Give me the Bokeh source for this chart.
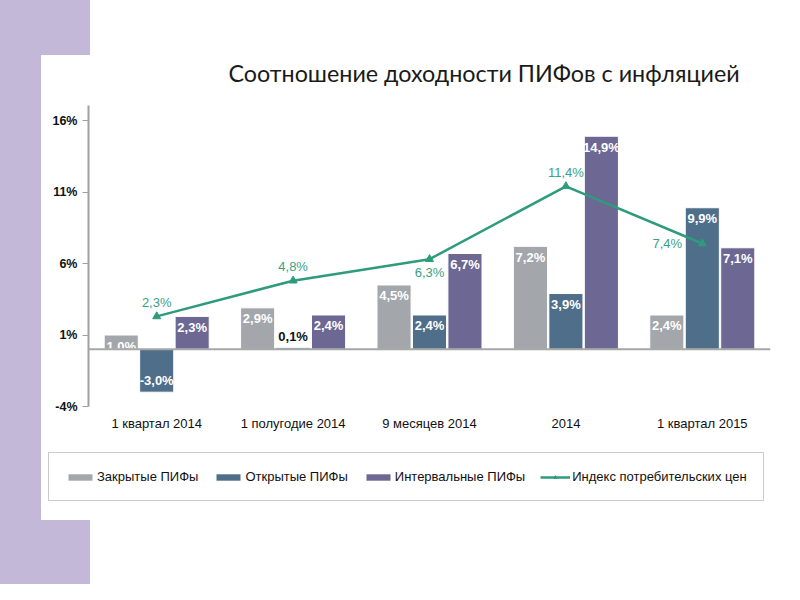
from bokeh.plotting import figure
from bokeh.layouts import column
from bokeh.models import (ColumnDataSource, FactorRange, Span, FixedTicker, PrintfTickFormatter,
                          Legend, LegendItem)
from bokeh.transform import dodge
from bokeh.core.properties import value
from bokeh.embed import file_html
from bokeh.resources import INLINE

# ---- data ----
categories = ["1 квартал 2014", "1 полугодие 2014", "9 месяцев 2014", "2014", "1 квартал 2015"]
closed_funds = [1.0, 2.9, 4.5, 7.2, 2.4]
open_funds = [-3.0, 0.1, 2.4, 3.9, 9.9]
interval_funds = [2.3, 2.4, 6.7, 14.9, 7.1]
cpi = [2.3, 4.8, 6.3, 11.4, 7.4]
y_ticks = [-4, 1, 6, 11, 16]
cpi_label_side = ["above", "above", "below", "above", "left"]

series_names = ["Закрытые ПИФы", "Открытые ПИФы", "Интервальные ПИФы"]
cpi_name = "Индекс потребительских цен"

# ---- styles ----
C_CLOSED = "#A3A7AB"
C_OPEN = "#4E6E8A"
C_INTERVAL = "#6C6893"
C_CPI = "#2E9C7B"
LAVENDER = "#C3B8D7"
FONT = "Liberation Sans"


def fmt(v):
    return f"{v:.1f}%".replace(".", ",")


p = figure(width=784, height=440, x_range=FactorRange(*categories, range_padding=0),
           y_range=(-4, 17.05), output_backend="svg", toolbar_location=None,
           min_border_left=88, min_border_right=14, min_border_top=105, min_border_bottom=34)
p.background_fill_color = "white"
p.border_fill_color = None
p.outline_line_color = None
p.grid.visible = False

# title
p.title.text = "Соотношение доходности ПИФов с инфляцией"
p.title.text_font = "Lato"
p.title.text_font_size = "23.3px"
p.title.text_font_style = "normal"
p.title.text_color = "#1A1A1A"
p.title.align = "left"
p.title.offset = 140
p.title.standoff = 37

src = ColumnDataSource(dict(cat=categories, closed=closed_funds, open=open_funds,
                            interval=interval_funds, cpi=cpi))

offsets = [-0.26, 0.0, 0.26]
cols = ["closed", "open", "interval"]
colors = [C_CLOSED, C_OPEN, C_INTERVAL]
vals = [closed_funds, open_funds, interval_funds]

p.add_layout(Span(location=0, dimension="width", line_color="#A6A6A6", line_width=2))

for off, col, color, vv in zip(offsets, cols, colors, vals):
    p.vbar(x=dodge("cat", off, range=p.x_range), top=col, bottom=0, width=0.25,
           source=src, fill_color=color, line_color="white", line_width=1)
    yo, tc = [], []
    for v in vv:
        if v >= 0.5:
            yo.append(11); tc.append("white")
        elif v <= -0.5:
            yo.append(-12); tc.append("white")
        else:
            yo.append(-11); tc.append("#111111")
    lsrc = ColumnDataSource(dict(cat=categories, y=vv, t=[fmt(v) for v in vv], yo=yo, tc=tc))
    p.text(x=dodge("cat", off, range=p.x_range), y="y", text="t", source=lsrc,
           y_offset="yo", text_color="tc", text_align="center", text_baseline="middle",
           text_font=value(FONT), text_font_size="13px", text_font_style="bold")

p.line(x="cat", y="cpi", source=src, line_color=C_CPI, line_width=2.5)
p.scatter(x="cat", y="cpi", source=src, marker="triangle", size=8,
          fill_color=C_CPI, line_color=C_CPI)

side_off = {"above": (0, -14), "below": (0, 13), "left": (-35, 0)}
csrc = ColumnDataSource(dict(cat=categories, y=cpi, t=[fmt(v) for v in cpi],
                             xo=[side_off[s][0] for s in cpi_label_side],
                             yo=[side_off[s][1] for s in cpi_label_side]))
p.text(x="cat", y="y", text="t", source=csrc, x_offset="xo", y_offset="yo",
       text_color="#3AA085", text_align="center", text_baseline="middle",
       text_font=value(FONT), text_font_size="13px")

# axes
p.yaxis.ticker = FixedTicker(ticks=y_ticks)
p.yaxis.formatter = PrintfTickFormatter(format="%d%%")
p.yaxis.axis_line_color = "#A0A0A0"
p.yaxis.axis_line_width = 2
p.yaxis.major_tick_line_color = "#A0A0A0"
p.yaxis.major_tick_in = 0
p.yaxis.major_tick_out = 6
p.yaxis.minor_tick_line_color = None
p.yaxis.major_label_text_font = FONT
p.yaxis.major_label_text_font_size = "12.5px"
p.yaxis.major_label_text_font_style = "bold"
p.yaxis.major_label_text_color = "#111111"
p.yaxis.major_label_standoff = 5

p.xaxis.axis_line_color = None
p.xaxis.major_tick_line_color = None
p.xaxis.major_tick_in = 0
p.xaxis.major_tick_out = 0
p.xaxis.minor_tick_line_color = None
p.xaxis.major_label_text_font = FONT
p.xaxis.major_label_text_font_size = "13px"
p.xaxis.major_label_text_color = "#111111"
p.xaxis.major_label_standoff = 9

# ---- legend panel (separate strip below the chart) ----
leg = figure(width=784, height=144, x_range=(0, 1), y_range=(0, 1),
             x_axis_type=None, y_axis_type=None, output_backend="svg", toolbar_location=None,
             min_border_left=40, min_border_right=8, min_border_top=5, min_border_bottom=74)
leg.frame_align = False
leg.background_fill_color = None
leg.border_fill_color = None
leg.outline_line_color = None
leg.grid.visible = False

# proxy glyphs for the legend keys (outside the visible range of this strip)
proxy = ColumnDataSource(dict(x=[-1.0], y=[-1.0]))
items = []
for name, color in zip(series_names, colors):
    r = leg.vbar(x="x", top="y", width=0.1, source=proxy, fill_color=color, line_color=None)
    items.append(LegendItem(label=name, renderers=[r]))
lr = leg.line(x="x", y="y", source=proxy, line_color=C_CPI, line_width=2.5)
mr = leg.scatter(x="x", y="y", source=proxy, marker="triangle", size=8,
                 fill_color=C_CPI, line_color=C_CPI)
items.append(LegendItem(label=cpi_name, renderers=[lr, mr]))

legend = Legend(items=items, orientation="horizontal", location=(8, 9))
legend.glyph_width = 30
legend.glyph_height = 8
legend.label_standoff = 2
legend.spacing = 15
legend.padding = 16
legend.margin = 0
legend.label_text_font = FONT
legend.label_text_font_size = "13px"
legend.label_text_color = "#111111"
legend.border_line_color = "#9A9A9A"
legend.border_line_width = 1.5
legend.background_fill_color = "white"
legend.background_fill_alpha = 1
leg.add_layout(legend, "center")

layout = column(p, leg, spacing=0)
band = f"linear-gradient({LAVENDER},{LAVENDER})"
layout.styles = {"background": (f"{band} 0 0 / 90px 55px no-repeat, "
                                f"{band} 0 0 / 41px 100% no-repeat, "
                                f"{band} 0 520px / 90px 100px no-repeat, white")}

open("out.html", "w").write(file_html(layout, INLINE))
